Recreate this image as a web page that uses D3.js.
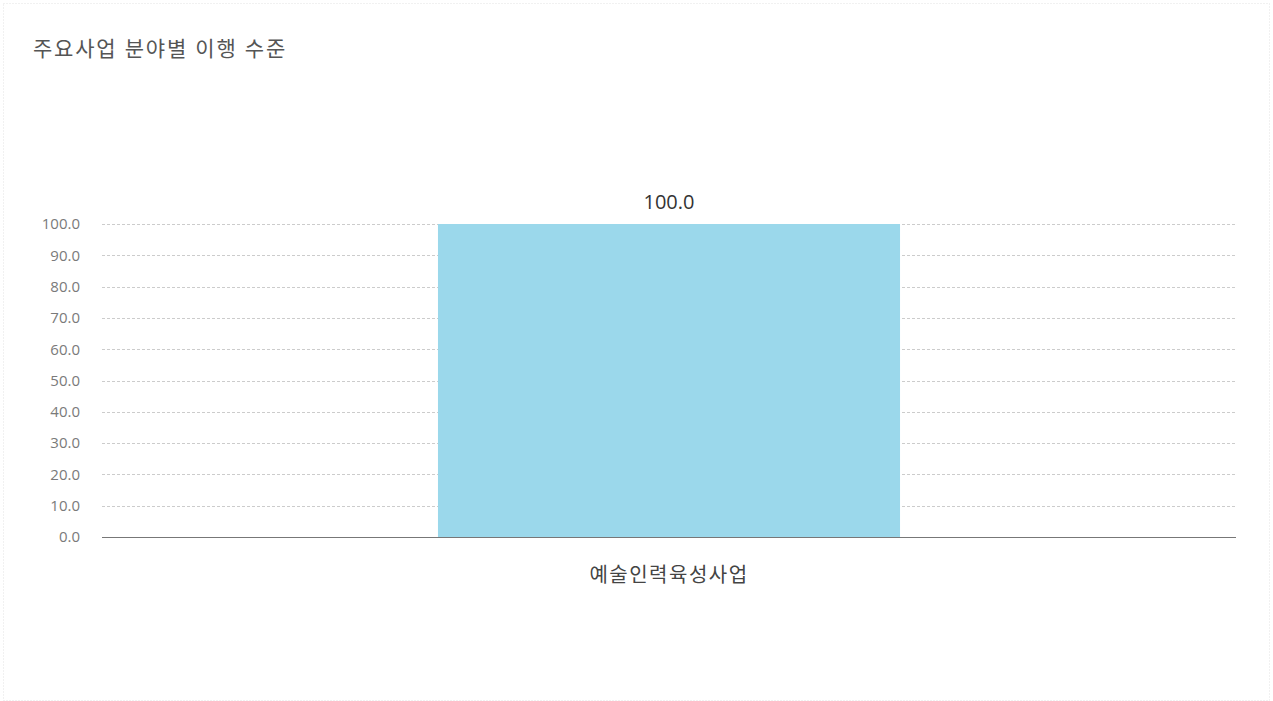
<!DOCTYPE html>
<html>
<head>
<meta charset="utf-8">
<script src="https://cdn.jsdelivr.net/npm/d3@7"></script>
<style>
  html, body { margin: 0; padding: 0; background: #fff; }
  svg text { font-family: "Open Sans", "Noto Sans CJK KR", sans-serif; }
</style>
</head>
<body>
<svg id="chart" width="1273" height="701"></svg>
<script>
const title = "주요사업 분야별 이행 수준";
const categories = ["예술인력육성사업"];
const values = [100.0];
const yTicks = [0, 10, 20, 30, 40, 50, 60, 70, 80, 90, 100];

const svg = d3.select("#chart");
const W = 1273, H = 701;
const m = { left: 102, right: 37, top: 224, bottom: 164 };

// dotted frame
svg.append("rect")
  .attr("x", 3.5).attr("y", 3.5).attr("width", W - 7).attr("height", H - 4)
  .attr("fill", "none").attr("stroke", "#e2e2e2").attr("stroke-dasharray", "1,2");

svg.append("text")
  .attr("x", 33).attr("y", 56)
  .attr("font-size", 21).attr("fill", "#555")
  .attr("letter-spacing", 1.8)
  .attr("font-family", "'Noto Sans CJK KR', sans-serif")
  .text(title);

const x = d3.scaleBand().domain(categories).range([m.left, W - m.right]).padding(0.421);
const y = d3.scaleLinear().domain([0, 100]).range([H - m.bottom, m.top]);

// gridlines
svg.append("g").selectAll("line").data(yTicks.filter(d => d > 0)).join("line")
  .attr("x1", m.left).attr("x2", W - m.right)
  .attr("y1", d => Math.round(y(d)) + 0.5).attr("y2", d => Math.round(y(d)) + 0.5)
  .attr("stroke", "#cccccc").attr("stroke-dasharray", "3,2").attr("stroke-width", 1);

// y axis labels
const yAxis = d3.axisLeft(y).tickValues(yTicks).tickFormat(d3.format(".1f")).tickSize(0).tickPadding(22);
const gy = svg.append("g").attr("transform", `translate(${m.left},0)`).call(yAxis);
gy.select(".domain").remove();
gy.selectAll("text").attr("font-size", 15).attr("fill", "#7a7a7a")
  .attr("font-family", "'Open Sans', sans-serif");

// bars
svg.append("g").selectAll("rect").data(values).join("rect")
  .attr("x", (d, i) => x(categories[i]))
  .attr("width", x.bandwidth())
  .attr("y", d => y(d))
  .attr("height", d => y(0) - y(d))
  .attr("fill", "#9bd8eb");

// value labels
svg.append("g").selectAll("text").data(values).join("text")
  .attr("x", (d, i) => x(categories[i]) + x.bandwidth() / 2)
  .attr("y", d => y(d) - 15)
  .attr("text-anchor", "middle")
  .attr("font-size", 20).attr("fill", "#333")
  .text(d => d3.format(".1f")(d));

// baseline
svg.append("line")
  .attr("x1", m.left).attr("x2", W - m.right)
  .attr("y1", Math.round(y(0)) + 0.5).attr("y2", Math.round(y(0)) + 0.5)
  .attr("stroke", "#777").attr("stroke-width", 1);

// x axis labels
const xAxis = d3.axisBottom(x).tickSize(0).tickPadding(31);
const gx = svg.append("g").attr("transform", `translate(0,${y(0)})`).call(xAxis);
gx.select(".domain").remove();
gx.selectAll("text").attr("font-size", 20).attr("fill", "#444")
  .attr("letter-spacing", 1.5)
  .attr("font-family", "'Noto Sans CJK KR', sans-serif");
</script>
</body>
</html>
